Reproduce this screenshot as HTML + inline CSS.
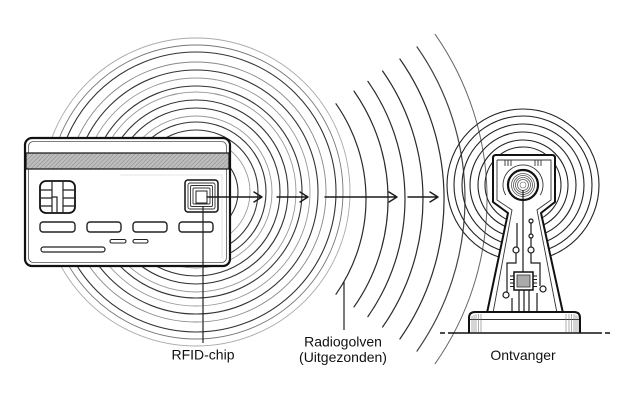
<!DOCTYPE html>
<html><head><meta charset="utf-8"><style>
html,body{margin:0;padding:0;background:#fff;}
svg{display:block;}
text{font-family:"Liberation Sans",sans-serif;font-size:14px;fill:#111;}
</style></head><body>
<svg width="636" height="400" viewBox="0 0 636 400" xmlns="http://www.w3.org/2000/svg">
<defs>
<pattern id="hat" width="3" height="3" patternUnits="userSpaceOnUse" patternTransform="rotate(45)">
<rect width="3" height="3" fill="#bdbdbd"/><line x1="0" y1="0" x2="0" y2="3" stroke="#888" stroke-width="1"/>
</pattern>
</defs>
<rect width="636" height="400" fill="#fff"/>

<!-- Group A: concentric circles around card chip -->
<g fill="none">
<circle cx="196" cy="192" r="30" stroke="#333" stroke-width="1.1"/>
<circle cx="196" cy="192" r="42" stroke="#333" stroke-width="1.1"/>
<circle cx="196" cy="192" r="54" stroke="#999" stroke-width="0.9"/>
<circle cx="196" cy="192" r="62" stroke="#333" stroke-width="1.1"/>
<circle cx="196" cy="192" r="70" stroke="#333" stroke-width="1.1"/>
<circle cx="196" cy="192" r="76" stroke="#999" stroke-width="0.9"/>
<circle cx="196" cy="192" r="84" stroke="#333" stroke-width="1.1"/>
<circle cx="196" cy="192" r="92" stroke="#333" stroke-width="1.1"/>
<circle cx="196" cy="192" r="100" stroke="#999" stroke-width="0.9"/>
<circle cx="196" cy="192" r="106" stroke="#333" stroke-width="1.1"/>
<circle cx="196" cy="192" r="114" stroke="#999" stroke-width="0.9"/>
<circle cx="196" cy="192" r="122" stroke="#333" stroke-width="1.1"/>
<circle cx="196" cy="192" r="130" stroke="#888" stroke-width="0.9"/>
<circle cx="196" cy="192" r="140" stroke="#333" stroke-width="1.1"/>
<circle cx="196" cy="192" r="147" stroke="#777" stroke-width="0.9"/>
<circle cx="196" cy="192" r="154" stroke="#aaa" stroke-width="0.9"/>
</g>

<!-- Group B: radiating arcs to the right -->
<g fill="none" stroke="#2a2a2a" stroke-width="1.2" stroke-linecap="round">
<path d="M336 103.8 A166 166 0 0 1 336 294.2"/>
<path d="M354 91.1 A188 188 0 0 1 354 306.9"/>
<path d="M367.9 81.4 A205 205 0 0 1 367.9 316.6"/>
<path d="M382.6 71 A223 223 0 0 1 382.6 327"/>
<path d="M399.9 59 A244 244 0 0 1 399.9 339"/>
<path d="M417 46.9 A265 265 0 0 1 417 351.1" stroke="#444"/>
<path d="M435.1 34.3 A287 287 0 0 1 435.1 363.7" stroke="#666" stroke-width="1"/>
</g>

<!-- Receiver rings -->
<g fill="none" stroke="#222" stroke-width="1.1">
<circle cx="523" cy="185" r="76"/>
<circle cx="523" cy="185" r="69"/>
<circle cx="523" cy="185" r="61"/>
<circle cx="523" cy="185" r="53"/>
<circle cx="523" cy="185" r="45"/>
<circle cx="523" cy="185" r="38"/>
</g>

<!-- Card -->
<rect x="25" y="138" width="205" height="128" rx="7" fill="#fff" stroke="#111" stroke-width="2.2"/>
<rect x="28.5" y="141.5" width="198" height="121" rx="5" fill="none" stroke="#555" stroke-width="0.8"/>
<rect x="26" y="153" width="203" height="16" fill="url(#hat)" stroke="#111" stroke-width="1.2"/>
<path d="M120 175 H222 V258" fill="none" stroke="#ddd" stroke-width="0.8"/>
<!-- contact chip -->
<rect x="40" y="181" width="35" height="32" rx="6" fill="#fff" stroke="#111" stroke-width="1.8"/>
<g stroke="#222" stroke-width="1.2" fill="none">
<path d="M52 181 V213 M63 181 V213"/>
<path d="M40 190 H52 M40 198 H52 M40 206 H52 M63 190 H75 M63 198 H75 M63 206 H75"/>
<path d="M52 197 H57 V213"/>
</g>
<!-- pills -->
<g fill="#fff" stroke="#222" stroke-width="1.4">
<rect x="40" y="222" width="35" height="10" rx="3"/>
<rect x="87" y="222" width="34" height="10" rx="3"/>
<rect x="133" y="222" width="34" height="10" rx="3"/>
<rect x="179" y="222" width="34" height="10" rx="3"/>
<rect x="110" y="239.5" width="16" height="3.5" rx="1.7" stroke-width="1.1"/>
<rect x="133" y="239.5" width="15" height="3.5" rx="1.7" stroke-width="1.1"/>
<rect x="41" y="247" width="64" height="5" rx="2.5" stroke-width="1.2"/>
</g>
<!-- RFID chip icon -->
<rect x="185" y="180" width="33" height="32" rx="3" fill="#fff" stroke="#111" stroke-width="1.5"/>
<g fill="none" stroke="#333" stroke-width="0.9">
<rect x="188" y="183" width="27" height="26" rx="2"/>
<rect x="190.5" y="185.5" width="22" height="21" rx="1.5"/>
<rect x="193" y="188" width="17" height="16" rx="1"/>
</g>
<rect x="196" y="191" width="11" height="12" fill="#fff" stroke="#222" stroke-width="1"/>

<!-- Arrows -->
<g fill="none" stroke="#1a1a1a" stroke-width="1.4" stroke-linecap="round" stroke-linejoin="round">
<path d="M207 197 H262 M254 192 L262 197 L254 202"/>
<path d="M277 197 H308 M300 192 L308 197 L300 202"/>
<path d="M325 197 H397 M389 192 L397 197 L389 202"/>
<path d="M408 197 H438 M430 192 L438 197 L430 202"/>
</g>

<!-- Tower -->
<path d="M496 155 H552 Q555 155 555 158 V202 L541 213 L563 313 H487 L508 213 L493 202 V158 Q493 155 496 155 Z" fill="#fff" stroke="#111" stroke-width="2" stroke-linejoin="round"/>
<g fill="none" stroke="#333" stroke-width="0.9">
<path d="M497 160 H551 V200 L537 210 L557 313"/>
<path d="M497 160 V200 L512 210 L493 313"/>
<path d="M505.7 195 A20 20 0 1 1 540.3 195"/>
<path d="M505 160 V166 M508 160 V166 M511 160 V166 M535 160 V166 M538 160 V166 M541 160 V166"/>
</g>
<circle cx="523" cy="185" r="15" fill="#fff" stroke="#111" stroke-width="2.2"/>
<g fill="none" stroke="#555" stroke-width="0.8">
<circle cx="523" cy="185" r="11.5"/>
<circle cx="523" cy="185" r="9.5"/>
<circle cx="523" cy="185" r="7.5"/>
<circle cx="523" cy="185" r="5.5"/>
</g>
<circle cx="523" cy="185" r="3" fill="#fff" stroke="#666" stroke-width="0.6"/>
<g fill="none" stroke="#1a1a1a" stroke-width="1.2">
<path d="M523 190 V272"/>
<path d="M531 223 V234 M531 238 V247 M517 223 V247"/>
<path d="M516 253 V263 H507 V292"/>
<path d="M531 253 V263 H540 V286"/>
<path d="M519 290 V313 M524 290 V313 M529 290 V313"/>
<path d="M512 298 V313 M537 293 V313"/>
<path d="M510 276 H514 M510 279.5 H514 M510 283 H514 M510 286.5 H514 M533 276 H537 M533 279.5 H537 M533 283 H537 M533 286.5 H537" stroke-width="0.9"/>
</g>
<g fill="#fff" stroke="#1a1a1a" stroke-width="1.2">
<circle cx="531" cy="221" r="2"/>
<circle cx="531" cy="236" r="2"/>
<circle cx="516" cy="250" r="3"/>
<circle cx="531" cy="250" r="3"/>
<circle cx="506" cy="295" r="3"/>
<circle cx="543" cy="289" r="3"/>
</g>
<rect x="514" y="272" width="19" height="18" fill="#fff" stroke="#111" stroke-width="1.5"/>
<rect x="517" y="275" width="13" height="12" fill="#aaa" stroke="#333" stroke-width="0.8"/>

<!-- Base -->
<path d="M469 333 V318 Q469 312 475 312 H574 Q580 312 580 318 V333" fill="#fff" stroke="#111" stroke-width="2"/>
<path d="M470 319.5 H579" stroke="#333" stroke-width="0.9"/>
<g stroke="#777" stroke-width="0.6">
<path d="M472 316 V332 M474 315 V332 M476 314 V332 M478.5 314 V332 M481 314 V332"/>
<path d="M566 314 V332 M569 314 V332 M571.5 314 V332 M574 314 V332 M576 315 V332 M578 316 V332"/>
</g>
<!-- ground -->
<path d="M440 333 H445 M448 333 H602 M605 333 H610" stroke="#111" stroke-width="1.6"/>

<!-- Leaders -->
<path d="M203 206 V343" stroke="#222" stroke-width="1.2"/>
<path d="M344 282 V330" stroke="#222" stroke-width="1.2"/>

<!-- Labels -->
<text x="203" y="359.5" text-anchor="middle">RFID-chip</text>
<text x="343" y="346.5" text-anchor="middle">Radiogolven</text>
<text x="343" y="362" text-anchor="middle">(Uitgezonden)</text>
<text x="523" y="360" text-anchor="middle">Ontvanger</text>
</svg>
</body></html>
